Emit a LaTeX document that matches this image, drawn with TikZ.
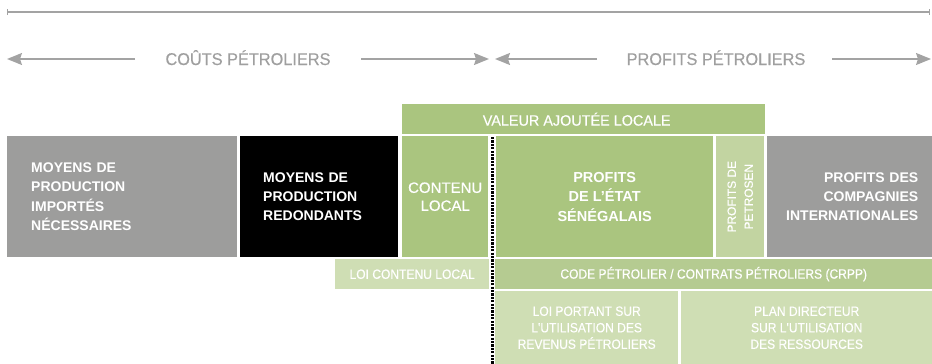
\documentclass[tikz,border=0pt]{standalone}
\usepackage{fontspec}
\setmainfont{Liberation Sans}
\newfontfamily\condf[FakeStretch=0.9,FakeBold=0.4]{Liberation Sans}
\newfontfamily\topf[FakeStretch=0.96,FakeBold=0.3]{Liberation Sans}
\newfontfamily\medf[FakeBold=0.5]{Liberation Sans}
\usetikzlibrary{arrows.meta}
\definecolor{grbox}{HTML}{9D9D9C}
\definecolor{gmain}{HTML}{AAC57F}
\definecolor{gpetro}{HTML}{C2D4A1}
\definecolor{gpale}{HTML}{CFDEB4}
\definecolor{gmid}{HTML}{B5CB91}
\definecolor{lgray}{HTML}{A3A3A3}
\definecolor{tgray}{HTML}{9F9F9F}
\tikzset{
  box/.style={rectangle, anchor=north west, inner sep=0pt, text=white},
  mainbold/.style={font=\fontsize{14}{19.3}\selectfont\bfseries},
  condtext/.style={font=\condf\fontsize{13.4}{16.5}\selectfont},
  toptext/.style={font=\topf\fontsize{17}{20}\selectfont, text=tgray, anchor=base},
  arr/.style={draw=lgray, line width=1.5pt, -{Stealth[length=15pt,width=12pt,inset=2pt]}},
  topline/.style={draw=lgray, line width=1.3pt, {Bar[width=6pt]}-{Bar[width=6pt]}},
  dotline/.style={draw=black, line width=3pt, dash pattern=on 2.2pt off 1.2pt}
}
\begin{document}
\begin{tikzpicture}[x=1pt,y=-1pt]
\useasboundingbox (0,0) rectangle (932,364);
% top line
\coordinate (tl) at (7,12);
\coordinate (tr) at (930,12);
\draw[topline] (tl) -- (tr);
% arrow row
\node[toptext] (couts) at (248,65) {COÛTS PÉTROLIERS};
\node[toptext] (profits) at (716,65) {PROFITS PÉTROLIERS};
\coordinate (a1s) at (135,59); \coordinate (a1e) at (7,59);
\coordinate (a2s) at (361,59); \coordinate (a2e) at (489,59);
\coordinate (a3s) at (597,59); \coordinate (a3e) at (495,59);
\coordinate (a4s) at (832,59); \coordinate (a4e) at (931,59);
\draw[arr] (a1s) -- (a1e);
\draw[arr] (a2s) -- (a2e);
\draw[arr] (a3s) -- (a3e);
\draw[arr] (a4s) -- (a4e);
% top green band
\node[box, fill=gmain, minimum width=363pt, minimum height=30pt,
  font=\topf\fontsize{15}{18}\selectfont] (va) at (402,104) {\hspace*{-14pt}VALEUR AJOUTÉE LOCALE};
% main row
\node[box, fill=grbox, mainbold, minimum width=230pt, minimum height=121pt,
  inner xsep=24pt, text width=182pt, align=left] (imp) at (7,136)
  {MOYENS DE\\PRODUCTION\\IMPORTÉS\\NÉCESSAIRES};
\node[box, fill=black, mainbold, minimum width=158pt, minimum height=121pt,
  inner xsep=23pt, text width=112pt, align=left] (red) at (240,136)
  {MOYENS DE\\PRODUCTION\\REDONDANTS};
\node[box, fill=gmain, minimum width=86pt, minimum height=121pt, align=center,
  font=\medf\fontsize{15}{18}\selectfont] (cl) at (402,136) {CONTENU\\LOCAL};
\node[box, fill=gmain, mainbold, minimum width=217pt, minimum height=121pt, align=center,
  font=\fontsize{14.5}{19.5}\selectfont\bfseries] (etat) at (496,136)
  {PROFITS\\DE L'ÉTAT\\SÉNÉGALAIS};
\node[box, fill=gpetro, minimum width=48pt, minimum height=121pt] (petro) at (716,136) {};
\node[rotate=90, text=white, align=center, inner sep=0pt,
  font=\medf\fontsize{11.9}{17}\selectfont] (petrotxt) at (petro.center) {PROFITS DE\\PETROSEN};
\node[box, fill=grbox, mainbold, minimum width=165pt, minimum height=121pt,
  inner xsep=14pt, text width=137pt, align=right] (comp) at (767,136)
  {PROFITS DES\\COMPAGNIES\\INTERNATIONALES};
% bottom rows
\node[box, fill=gpale, condtext, minimum width=154pt, minimum height=30pt] (lcl) at (335,259)
  {LOI CONTENU LOCAL};
\node[box, fill=gmid, condtext, minimum width=437pt, minimum height=30pt] (code) at (495,259)
  {CODE PÉTROLIER / CONTRATS PÉTROLIERS (CRPP)};
\node[box, fill=gpale, condtext, minimum width=183pt, minimum height=73pt, align=center] (lp) at (495,291)
  {LOI PORTANT SUR\\L'UTILISATION DES\\REVENUS PÉTROLIERS};
\node[box, fill=gpale, condtext, minimum width=251pt, minimum height=73pt, align=center] (pd) at (681,291)
  {PLAN DIRECTEUR\\SUR L'UTILISATION\\DES RESSOURCES};
% dotted divider
\coordinate (dtop) at (492,137);
\coordinate (dbot) at (492,364);
\draw[dotline] (dtop) -- (dbot);
\end{tikzpicture}
\end{document}
